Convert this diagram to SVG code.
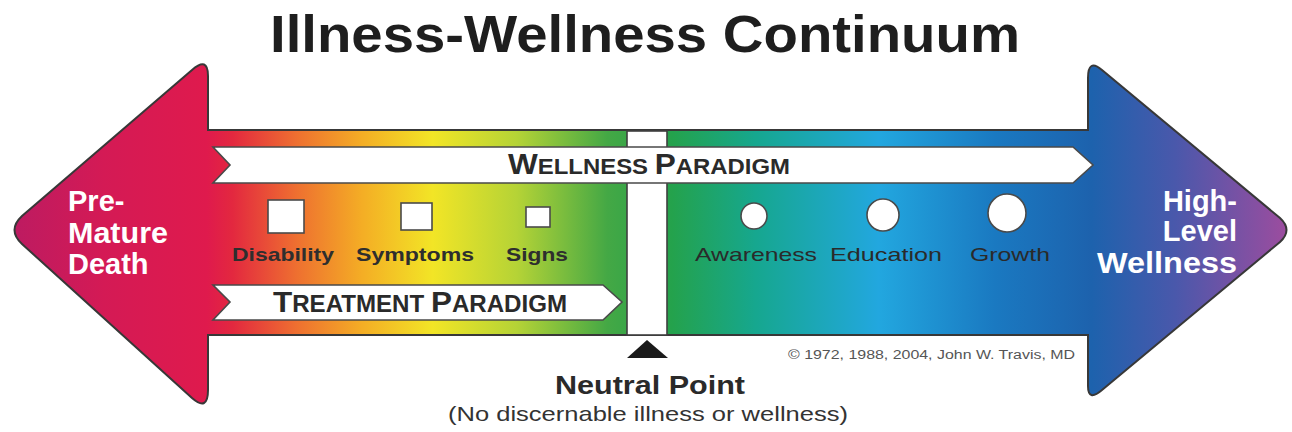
<svg xmlns="http://www.w3.org/2000/svg" width="1292" height="432" viewBox="0 0 1292 432">
  <defs>
    <linearGradient id="spectrum" gradientUnits="userSpaceOnUse" x1="0" y1="0" x2="1292" y2="0">
      <stop offset="0" stop-color="#b91b63"/>
      <stop offset="0.08" stop-color="#d41a55"/>
      <stop offset="0.16" stop-color="#df1a4d"/>
      <stop offset="0.18" stop-color="#e3283f"/>
      <stop offset="0.23" stop-color="#ee7030"/>
      <stop offset="0.28" stop-color="#f4ad25"/>
      <stop offset="0.335" stop-color="#f2e526"/>
      <stop offset="0.40" stop-color="#b5d336"/>
      <stop offset="0.47" stop-color="#44a845"/>
      <stop offset="0.52" stop-color="#24a24c"/>
      <stop offset="0.585" stop-color="#16a78f"/>
      <stop offset="0.68" stop-color="#22a7df"/>
      <stop offset="0.77" stop-color="#1a79c1"/>
      <stop offset="0.845" stop-color="#1d62ad"/>
      <stop offset="0.91" stop-color="#4a58ab"/>
      <stop offset="1" stop-color="#a04c9e"/>
    </linearGradient>
  </defs>
  <style>
    .sans { font-family: "Liberation Sans", Arial, sans-serif; }
    .title { font-size: 52px; font-weight: bold; fill: #1e1e1e; }
    .end { font-size: 29px; font-weight: bold; fill: #ffffff; }
    .band { fill: #ffffff; stroke: #4a4a4a; stroke-width: 1.6; }
    .band-text { font-weight: bold; fill: #2a2a2a; }
    .ill { font-size: 19px; font-weight: bold; fill: #2e2e2e; }
    .well { font-size: 19px; fill: #2a2a2a; }
    .marker { fill: #ffffff; stroke: #4a4a4a; stroke-width: 1.6; }
    .note { font-size: 12px; fill: #555555; }
  </style>

  <text id="title" class="sans title" x="270" y="52" textLength="750" lengthAdjust="spacingAndGlyphs">Illness-Wellness Continuum</text>

  <g id="arrow">
    <path d="M 208,130 L 1088,130 L 1088,78 Q 1088,58 1102,70 L 1280,218 Q 1293,230 1280,242 L 1102,390 Q 1088,402 1088,386 L 1088,335 L 208,335 L 208,390 Q 208,412 192,398 L 22,244 Q 7,230 22,216 L 192,70 Q 208,56 208,76 Z" fill="url(#spectrum)" stroke="#383838" stroke-width="2"/>
  </g>

  <g id="neutral-column">
    <rect x="627" y="131" width="40" height="204" fill="#ffffff" stroke="#3f3f3f" stroke-width="1.6"/>
  </g>

  <g id="wellness-paradigm">
    <path class="band" d="M 213,147 L 1073,147 L 1093,165 L 1073,183 L 213,183 L 230,165 Z"/>
    <text class="sans band-text" x="508" y="174" textLength="282" lengthAdjust="spacingAndGlyphs"><tspan font-size="29">W</tspan><tspan font-size="22">ELLNESS </tspan><tspan font-size="29">P</tspan><tspan font-size="22">ARADIGM</tspan></text>
  </g>

  <g id="treatment-paradigm">
    <path class="band" d="M 213,285 L 603,285 L 622,302 L 603,320 L 213,320 L 230,302 Z"/>
    <text class="sans band-text" x="273" y="312" textLength="294" lengthAdjust="spacingAndGlyphs"><tspan font-size="30">T</tspan><tspan font-size="23">REATMENT </tspan><tspan font-size="30">P</tspan><tspan font-size="23">ARADIGM</tspan></text>
  </g>

  <g id="premature-death">
    <text class="sans end" x="68" y="211">Pre-</text>
    <text class="sans end" x="68" y="243" textLength="100" lengthAdjust="spacingAndGlyphs">Mature</text>
    <text class="sans end" x="68" y="274">Death</text>
  </g>

  <g id="high-level-wellness">
    <text class="sans end" x="1237" y="211" text-anchor="end">High-</text>
    <text class="sans end" x="1237" y="241" text-anchor="end">Level</text>
    <text class="sans end" x="1097" y="273" textLength="140" lengthAdjust="spacingAndGlyphs">Wellness</text>
  </g>

  <g id="disability">
    <rect class="marker" x="268" y="200" width="36" height="33"/>
    <text class="sans ill" x="232" y="261" textLength="102" lengthAdjust="spacingAndGlyphs">Disability</text>
  </g>
  <g id="symptoms">
    <rect class="marker" x="401" y="203" width="31" height="27"/>
    <text class="sans ill" x="356" y="261" textLength="118" lengthAdjust="spacingAndGlyphs">Symptoms</text>
  </g>
  <g id="signs">
    <rect class="marker" x="526" y="207" width="24" height="20"/>
    <text class="sans ill" x="506" y="261" textLength="62" lengthAdjust="spacingAndGlyphs">Signs</text>
  </g>

  <g id="awareness">
    <circle class="marker" cx="754" cy="216" r="13"/>
    <text class="sans well" x="695" y="261" textLength="122" lengthAdjust="spacingAndGlyphs">Awareness</text>
  </g>
  <g id="education">
    <circle class="marker" cx="883" cy="215" r="16"/>
    <text class="sans well" x="830" y="261" textLength="112" lengthAdjust="spacingAndGlyphs">Education</text>
  </g>
  <g id="growth">
    <circle class="marker" cx="1007" cy="213" r="19"/>
    <text class="sans well" x="970" y="261" textLength="80" lengthAdjust="spacingAndGlyphs">Growth</text>
  </g>

  <g id="connectors">
    <path id="neutral-pointer" d="M 647,340 L 668,358 L 627,358 Z" fill="#1a1a1a"/>
  </g>

  <g id="neutral-point">
    <text class="sans" x="555" y="394" font-size="25" font-weight="bold" fill="#2a2a2a" textLength="190" lengthAdjust="spacingAndGlyphs">Neutral Point</text>
    <text class="sans" x="448" y="421" font-size="21" fill="#333333" textLength="400" lengthAdjust="spacingAndGlyphs">(No discernable illness or wellness)</text>
  </g>

  <text id="copyright" class="sans note" x="788" y="359" textLength="287" lengthAdjust="spacingAndGlyphs">© 1972, 1988, 2004, John W. Travis, MD</text>
</svg>
